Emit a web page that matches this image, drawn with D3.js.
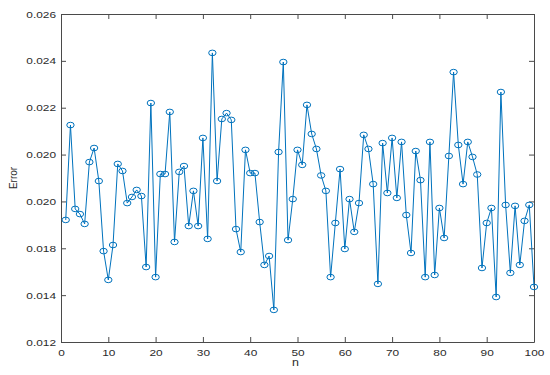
<!DOCTYPE html>
<html>
<head>
<meta charset="utf-8">
<script src="https://cdn.jsdelivr.net/npm/d3@7"></script>
<style>
    body { margin: 0; background: #fff; }
    text { font-family: "Liberation Sans", Arial, sans-serif; }
</style>
</head>
<body>
<div id="chart"></div>
<script>
// error for n = 1..100
const errorValues = [
    0.01721, 0.02126, 0.01768, 0.01746, 0.01704, 0.01968, 0.02028, 0.01887, 0.01588, 0.01465,
    0.01614, 0.01960, 0.01930, 0.01793, 0.01819, 0.01849, 0.01823, 0.01520, 0.02220, 0.01477,
    0.01917, 0.01917, 0.02182, 0.01627, 0.01926, 0.01951, 0.01695, 0.01845, 0.01695, 0.02071,
    0.01640, 0.02434, 0.01887, 0.02152, 0.02177, 0.02148, 0.01682, 0.01584, 0.02020, 0.01921,
    0.01921, 0.01712, 0.01529, 0.01567, 0.01337, 0.02011, 0.02395, 0.01635, 0.01810, 0.02020,
    0.01956, 0.02212, 0.02088, 0.02024, 0.01911, 0.01845, 0.01477, 0.01708, 0.01938, 0.01597,
    0.01810, 0.01670, 0.01793, 0.02084, 0.02024, 0.01874, 0.01448, 0.02049, 0.01836, 0.02071,
    0.01815, 0.02054, 0.01742, 0.01580, 0.02015, 0.01891, 0.01477, 0.02054, 0.01486, 0.01772,
    0.01644, 0.01994, 0.02352, 0.02041, 0.01874, 0.02054, 0.01990, 0.01915, 0.01516, 0.01708,
    0.01772, 0.01392, 0.02267, 0.01785, 0.01495, 0.01781, 0.01529, 0.01717, 0.01785, 0.01435
];

const xTicks = [0, 10, 20, 30, 40, 50, 60, 70, 80, 90, 100];
const yTicks = [0.012, 0.014, 0.016, 0.018, 0.020, 0.022, 0.024, 0.026];
// labels exactly as printed on the original axis
const yTickLabels = ['0.012', '0.014', '0.018', '0.020', '0.020', '0.022', '0.024', '0.026'];

const lineColor = '#0072BD';
const axisColor = '#4a4a4a';
const textColor = '#2b2b2b';
const stretch = 1.25;  // the original picture is a bit wider than tall

function drawChart() {
    const margin = {top: 14, right: 16, bottom: 33, left: 61};
    const width = 550 - margin.left - margin.right;
    const height = 375 - margin.top - margin.bottom;

    const svg = d3.select("#chart")
        .append("svg")
        .attr("width", 550)
        .attr("height", 375)
        .append("g")
        .attr("transform", `translate(${margin.left}, ${margin.top})`);

    const x = d3.scaleLinear().domain([0, 100]).range([0, width]);
    const y = d3.scaleLinear().domain([0.012, 0.026]).range([height, 0]);

    // axes, ticks point inward on all four sides
    const bottom = svg.append("g")
        .attr("transform", `translate(0, ${height})`)
        .call(d3.axisBottom(x).tickValues(xTicks).tickSizeInner(-5).tickSizeOuter(0).tickPadding(7));
    svg.append("g")
        .call(d3.axisTop(x).tickValues(xTicks).tickSizeInner(-5).tickSizeOuter(0).tickFormat(''));
    const left = svg.append("g")
        .call(d3.axisLeft(y).tickValues(yTicks).tickSizeInner(-5).tickSizeOuter(0).tickPadding(5)
            .tickFormat((d, i) => yTickLabels[i]));
    svg.append("g")
        .attr("transform", `translate(${width}, 0)`)
        .call(d3.axisRight(y).tickValues(yTicks).tickSizeInner(-5).tickSizeOuter(0).tickFormat(''));

    svg.selectAll(".domain, .tick line").attr("stroke", axisColor);
    svg.selectAll(".tick text")
        .attr("fill", textColor)
        .style("font-size", "9.5px");

    bottom.selectAll(".tick text").attr("transform", `scale(${stretch},1)`);
    left.selectAll(".tick text")
        .attr("x", -5 / stretch)
        .attr("transform", `scale(${stretch},1)`);

    // data line
    const line = d3.line()
        .x((d, i) => x(i + 1))
        .y(d => y(d));

    svg.append("path")
        .datum(errorValues)
        .attr("fill", "none")
        .attr("stroke", lineColor)
        .attr("stroke-width", 1)
        .attr("d", line);

    svg.selectAll(".marker")
        .data(errorValues)
        .enter()
        .append("ellipse")
        .attr("class", "marker")
        .attr("cx", (d, i) => x(i + 1))
        .attr("cy", d => y(d))
        .attr("rx", 3.7)
        .attr("ry", 2.8)
        .attr("fill", "none")
        .attr("stroke", lineColor)
        .attr("stroke-width", 1);

    // axis titles
    svg.append("text")
        .attr("transform", `translate(${width / 2 - 2}, ${height + 24}) scale(${stretch},1)`)
        .attr("text-anchor", "middle")
        .attr("fill", textColor)
        .style("font-size", "10px")
        .text("n");

    svg.append("text")
        .attr("transform", `translate(${-margin.left + 17}, ${height / 2}) rotate(-90)`)
        .attr("text-anchor", "middle")
        .attr("fill", textColor)
        .style("font-size", "10px")
        .text("Error");
}

drawChart();
</script>
</body>
</html>
